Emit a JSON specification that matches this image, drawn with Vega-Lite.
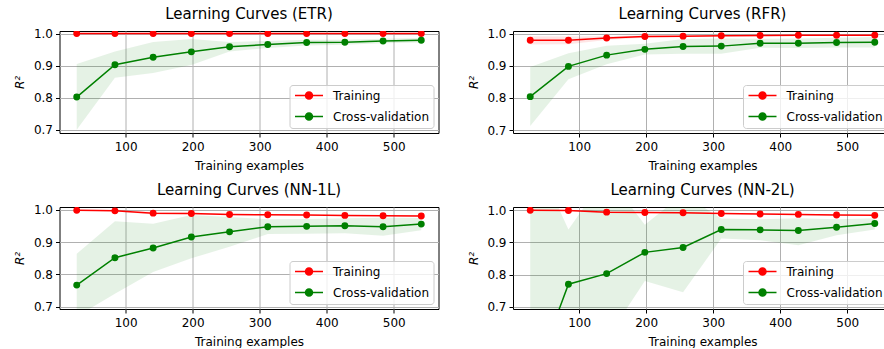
{
  "$schema": "https://vega.github.io/schema/vega-lite/v6.json",
  "padding": {"left": 12.5, "top": 6, "right": 0, "bottom": 0},
  "background": "white",
  "config": {
    "font": "DejaVu Sans",
    "view": {"stroke": "#000000", "strokeWidth": 1},
    "title": {"font": "DejaVu Sans", "fontSize": 15, "fontWeight": "normal", "color": "#000000", "offset": 6},
    "axis": {
      "labelFont": "DejaVu Sans", "labelFontSize": 12, "labelColor": "#000000",
      "titleFont": "DejaVu Sans", "titleFontSize": 12, "titleFontWeight": "normal", "titleColor": "#000000",
      "tickColor": "#000000", "tickSize": 4, "tickWidth": 1, "domain": false,
      "gridColor": "#b0b0b0", "gridWidth": 1, "gridOpacity": 1, "labelPadding": 3
    },
    "axisX": {"titlePadding": 8, "labelPadding": 4},
    "axisY": {"titlePadding": 6.5},
    "legend": {
      "orient": "bottom-right", "offset": 5, "padding": 4.5,
      "fillColor": "rgba(255,255,255,0.8)", "strokeColor": "#cccccc", "cornerRadius": 3,
      "labelFont": "DejaVu Sans", "labelFontSize": 12, "labelColor": "#000000",
      "symbolSize": 100, "symbolStrokeWidth": 1.5, "labelOffset": 27, "rowPadding": 7
    }
  },
  "datasets": {
    "lc": [
      {"model": "ETR", "series": "Training", "n": 27, "mean": 0.9999, "lo": 0.9995, "hi": 1.0003},
      {"model": "ETR", "series": "Training", "n": 84, "mean": 0.9999, "lo": 0.9995, "hi": 1.0003},
      {"model": "ETR", "series": "Training", "n": 141, "mean": 0.9999, "lo": 0.9995, "hi": 1.0003},
      {"model": "ETR", "series": "Training", "n": 198, "mean": 0.9999, "lo": 0.9995, "hi": 1.0003},
      {"model": "ETR", "series": "Training", "n": 255, "mean": 0.9999, "lo": 0.9995, "hi": 1.0003},
      {"model": "ETR", "series": "Training", "n": 312, "mean": 0.9999, "lo": 0.9995, "hi": 1.0003},
      {"model": "ETR", "series": "Training", "n": 370, "mean": 0.9999, "lo": 0.9995, "hi": 1.0003},
      {"model": "ETR", "series": "Training", "n": 427, "mean": 0.9999, "lo": 0.9995, "hi": 1.0003},
      {"model": "ETR", "series": "Training", "n": 484, "mean": 0.9999, "lo": 0.9995, "hi": 1.0003},
      {"model": "ETR", "series": "Training", "n": 541, "mean": 0.9999, "lo": 0.9995, "hi": 1.0003},
      {"model": "ETR", "series": "Cross-validation", "n": 27, "mean": 0.802, "lo": 0.700, "hi": 0.905},
      {"model": "ETR", "series": "Cross-validation", "n": 84, "mean": 0.903, "lo": 0.862, "hi": 0.944},
      {"model": "ETR", "series": "Cross-validation", "n": 141, "mean": 0.926, "lo": 0.877, "hi": 0.974},
      {"model": "ETR", "series": "Cross-validation", "n": 198, "mean": 0.943, "lo": 0.902, "hi": 0.983},
      {"model": "ETR", "series": "Cross-validation", "n": 255, "mean": 0.959, "lo": 0.944, "hi": 0.974},
      {"model": "ETR", "series": "Cross-validation", "n": 312, "mean": 0.966, "lo": 0.955, "hi": 0.977},
      {"model": "ETR", "series": "Cross-validation", "n": 370, "mean": 0.972, "lo": 0.963, "hi": 0.981},
      {"model": "ETR", "series": "Cross-validation", "n": 427, "mean": 0.973, "lo": 0.965, "hi": 0.981},
      {"model": "ETR", "series": "Cross-validation", "n": 484, "mean": 0.977, "lo": 0.970, "hi": 0.984},
      {"model": "ETR", "series": "Cross-validation", "n": 541, "mean": 0.979, "lo": 0.972, "hi": 0.986},

      {"model": "RFR", "series": "Training", "n": 27, "mean": 0.979, "lo": 0.966, "hi": 0.992},
      {"model": "RFR", "series": "Training", "n": 84, "mean": 0.979, "lo": 0.967, "hi": 0.991},
      {"model": "RFR", "series": "Training", "n": 141, "mean": 0.986, "lo": 0.980, "hi": 0.992},
      {"model": "RFR", "series": "Training", "n": 198, "mean": 0.991, "lo": 0.987, "hi": 0.995},
      {"model": "RFR", "series": "Training", "n": 255, "mean": 0.992, "lo": 0.989, "hi": 0.995},
      {"model": "RFR", "series": "Training", "n": 312, "mean": 0.993, "lo": 0.991, "hi": 0.995},
      {"model": "RFR", "series": "Training", "n": 370, "mean": 0.994, "lo": 0.992, "hi": 0.996},
      {"model": "RFR", "series": "Training", "n": 427, "mean": 0.995, "lo": 0.993, "hi": 0.997},
      {"model": "RFR", "series": "Training", "n": 484, "mean": 0.995, "lo": 0.993, "hi": 0.997},
      {"model": "RFR", "series": "Training", "n": 541, "mean": 0.995, "lo": 0.993, "hi": 0.997},
      {"model": "RFR", "series": "Cross-validation", "n": 27, "mean": 0.804, "lo": 0.713, "hi": 0.896},
      {"model": "RFR", "series": "Cross-validation", "n": 84, "mean": 0.898, "lo": 0.858, "hi": 0.939},
      {"model": "RFR", "series": "Cross-validation", "n": 141, "mean": 0.933, "lo": 0.905, "hi": 0.962},
      {"model": "RFR", "series": "Cross-validation", "n": 198, "mean": 0.951, "lo": 0.935, "hi": 0.968},
      {"model": "RFR", "series": "Cross-validation", "n": 255, "mean": 0.960, "lo": 0.937, "hi": 0.983},
      {"model": "RFR", "series": "Cross-validation", "n": 312, "mean": 0.961, "lo": 0.937, "hi": 0.985},
      {"model": "RFR", "series": "Cross-validation", "n": 370, "mean": 0.970, "lo": 0.956, "hi": 0.984},
      {"model": "RFR", "series": "Cross-validation", "n": 427, "mean": 0.970, "lo": 0.955, "hi": 0.985},
      {"model": "RFR", "series": "Cross-validation", "n": 484, "mean": 0.972, "lo": 0.957, "hi": 0.987},
      {"model": "RFR", "series": "Cross-validation", "n": 541, "mean": 0.973, "lo": 0.957, "hi": 0.989},

      {"model": "NN-1L", "series": "Training", "n": 27, "mean": 0.999, "lo": 0.998, "hi": 1.000},
      {"model": "NN-1L", "series": "Training", "n": 84, "mean": 0.997, "lo": 0.995, "hi": 0.999},
      {"model": "NN-1L", "series": "Training", "n": 141, "mean": 0.990, "lo": 0.986, "hi": 0.994},
      {"model": "NN-1L", "series": "Training", "n": 198, "mean": 0.989, "lo": 0.986, "hi": 0.992},
      {"model": "NN-1L", "series": "Training", "n": 255, "mean": 0.986, "lo": 0.984, "hi": 0.988},
      {"model": "NN-1L", "series": "Training", "n": 312, "mean": 0.985, "lo": 0.983, "hi": 0.987},
      {"model": "NN-1L", "series": "Training", "n": 370, "mean": 0.984, "lo": 0.982, "hi": 0.986},
      {"model": "NN-1L", "series": "Training", "n": 427, "mean": 0.983, "lo": 0.981, "hi": 0.985},
      {"model": "NN-1L", "series": "Training", "n": 484, "mean": 0.982, "lo": 0.980, "hi": 0.984},
      {"model": "NN-1L", "series": "Training", "n": 541, "mean": 0.981, "lo": 0.979, "hi": 0.983},
      {"model": "NN-1L", "series": "Cross-validation", "n": 27, "mean": 0.767, "lo": 0.670, "hi": 0.864},
      {"model": "NN-1L", "series": "Cross-validation", "n": 84, "mean": 0.852, "lo": 0.740, "hi": 0.965},
      {"model": "NN-1L", "series": "Cross-validation", "n": 141, "mean": 0.882, "lo": 0.808, "hi": 0.957},
      {"model": "NN-1L", "series": "Cross-validation", "n": 198, "mean": 0.916, "lo": 0.850, "hi": 0.984},
      {"model": "NN-1L", "series": "Cross-validation", "n": 255, "mean": 0.932, "lo": 0.886, "hi": 0.978},
      {"model": "NN-1L", "series": "Cross-validation", "n": 312, "mean": 0.948, "lo": 0.925, "hi": 0.971},
      {"model": "NN-1L", "series": "Cross-validation", "n": 370, "mean": 0.949, "lo": 0.926, "hi": 0.972},
      {"model": "NN-1L", "series": "Cross-validation", "n": 427, "mean": 0.951, "lo": 0.928, "hi": 0.974},
      {"model": "NN-1L", "series": "Cross-validation", "n": 484, "mean": 0.948, "lo": 0.920, "hi": 0.976},
      {"model": "NN-1L", "series": "Cross-validation", "n": 541, "mean": 0.956, "lo": 0.937, "hi": 0.975},

      {"model": "NN-2L", "series": "Training", "n": 27, "mean": 1.000, "lo": 0.999, "hi": 1.001},
      {"model": "NN-2L", "series": "Training", "n": 84, "mean": 0.999, "lo": 0.997, "hi": 1.001},
      {"model": "NN-2L", "series": "Training", "n": 141, "mean": 0.994, "lo": 0.991, "hi": 0.997},
      {"model": "NN-2L", "series": "Training", "n": 198, "mean": 0.993, "lo": 0.991, "hi": 0.995},
      {"model": "NN-2L", "series": "Training", "n": 255, "mean": 0.992, "lo": 0.990, "hi": 0.994},
      {"model": "NN-2L", "series": "Training", "n": 312, "mean": 0.990, "lo": 0.988, "hi": 0.992},
      {"model": "NN-2L", "series": "Training", "n": 370, "mean": 0.988, "lo": 0.986, "hi": 0.990},
      {"model": "NN-2L", "series": "Training", "n": 427, "mean": 0.987, "lo": 0.985, "hi": 0.989},
      {"model": "NN-2L", "series": "Training", "n": 484, "mean": 0.985, "lo": 0.983, "hi": 0.987},
      {"model": "NN-2L", "series": "Training", "n": 541, "mean": 0.984, "lo": 0.982, "hi": 0.986},
      {"model": "NN-2L", "series": "Cross-validation", "n": 27, "mean": 0.450, "lo": -0.300, "hi": 1.200},
      {"model": "NN-2L", "series": "Cross-validation", "n": 84, "mean": 0.770, "lo": 0.550, "hi": 0.940},
      {"model": "NN-2L", "series": "Cross-validation", "n": 141, "mean": 0.803, "lo": 0.600, "hi": 1.110},
      {"model": "NN-2L", "series": "Cross-validation", "n": 198, "mean": 0.869, "lo": 0.780, "hi": 0.955},
      {"model": "NN-2L", "series": "Cross-validation", "n": 255, "mean": 0.884, "lo": 0.745, "hi": 1.050},
      {"model": "NN-2L", "series": "Cross-validation", "n": 312, "mean": 0.940, "lo": 0.912, "hi": 0.974},
      {"model": "NN-2L", "series": "Cross-validation", "n": 370, "mean": 0.939, "lo": 0.907, "hi": 0.972},
      {"model": "NN-2L", "series": "Cross-validation", "n": 427, "mean": 0.937, "lo": 0.891, "hi": 0.975},
      {"model": "NN-2L", "series": "Cross-validation", "n": 484, "mean": 0.947, "lo": 0.922, "hi": 0.972},
      {"model": "NN-2L", "series": "Cross-validation", "n": 541, "mean": 0.959, "lo": 0.940, "hi": 0.975}
    ]
  },
  "columns": 2,
  "spacing": {"row": 10, "column": 26.5},
  "resolve": {"scale": {"color": "independent", "x": "independent", "y": "independent"}},
  "concat": [
    {
      "title": "Learning Curves (ETR)",
      "width": 379, "height": 102,
      "data": {"name": "lc"},
      "transform": [{"filter": "datum.model === 'ETR'"}],
      "encoding": {
        "x": {"field": "n", "type": "quantitative", "scale": {"domain": [1.3, 566.7], "nice": false, "zero": false}, "axis": {"values": [100, 200, 300, 400, 500], "title": "Training examples"}},
        "color": {"field": "series", "type": "nominal", "scale": {"domain": ["Training", "Cross-validation"], "range": ["#ff0000", "#008000"]},
          "legend": {"title": null, "symbolType": "M-1,0L4.6,0M2.5,0A0.7,0.7,0,1,1,1.1,0A0.7,0.7,0,1,1,2.5,0Z",
            "encode": {"symbols": {"update": {"fill": {"signal": "datum.value === 'Training' ? '#ff0000' : '#008000'"}, "stroke": {"signal": "datum.value === 'Training' ? '#ff0000' : '#008000'"}, "fillOpacity": {"value": 1}, "strokeOpacity": {"value": 1}, "opacity": {"value": 1}}}}}}
      },
      "layer": [
        {"mark": {"type": "area", "opacity": 0.1, "clip": true},
         "encoding": {"y": {"field": "lo", "type": "quantitative", "scale": {"domain": [0.69, 1.008], "nice": false, "zero": false}, "axis": {"values": [0.7, 0.8, 0.9, 1.0], "format": ".1f", "title": "R²", "titleFontStyle": "italic"}}, "y2": {"field": "hi"}}},
        {"mark": {"type": "line", "strokeWidth": 1.5, "clip": true},
         "encoding": {"y": {"field": "mean", "type": "quantitative", "axis": {"values": [0.7, 0.8, 0.9, 1.0], "format": ".1f", "title": "R²", "titleFontStyle": "italic"}}}},
        {"mark": {"type": "point", "filled": true, "size": 48, "opacity": 1, "clip": true},
         "encoding": {"y": {"field": "mean", "type": "quantitative", "axis": {"values": [0.7, 0.8, 0.9, 1.0], "format": ".1f", "title": "R²", "titleFontStyle": "italic"}}}}
      ]
    },
    {
      "title": "Learning Curves (RFR)",
      "width": 379, "height": 102,
      "data": {"name": "lc"},
      "transform": [{"filter": "datum.model === 'RFR'"}],
      "encoding": {
        "x": {"field": "n", "type": "quantitative", "scale": {"domain": [1.3, 566.7], "nice": false, "zero": false}, "axis": {"values": [100, 200, 300, 400, 500], "title": "Training examples"}},
        "color": {"field": "series", "type": "nominal", "scale": {"domain": ["Training", "Cross-validation"], "range": ["#ff0000", "#008000"]},
          "legend": {"title": null, "symbolType": "M-1,0L4.6,0M2.5,0A0.7,0.7,0,1,1,1.1,0A0.7,0.7,0,1,1,2.5,0Z",
            "encode": {"symbols": {"update": {"fill": {"signal": "datum.value === 'Training' ? '#ff0000' : '#008000'"}, "stroke": {"signal": "datum.value === 'Training' ? '#ff0000' : '#008000'"}, "fillOpacity": {"value": 1}, "strokeOpacity": {"value": 1}, "opacity": {"value": 1}}}}}}
      },
      "layer": [
        {"mark": {"type": "area", "opacity": 0.1, "clip": true},
         "encoding": {"y": {"field": "lo", "type": "quantitative", "scale": {"domain": [0.691, 1.008], "nice": false, "zero": false}, "axis": {"values": [0.7, 0.8, 0.9, 1.0], "format": ".1f", "title": "R²", "titleFontStyle": "italic"}}, "y2": {"field": "hi"}}},
        {"mark": {"type": "line", "strokeWidth": 1.5, "clip": true},
         "encoding": {"y": {"field": "mean", "type": "quantitative", "axis": {"values": [0.7, 0.8, 0.9, 1.0], "format": ".1f", "title": "R²", "titleFontStyle": "italic"}}}},
        {"mark": {"type": "point", "filled": true, "size": 48, "opacity": 1, "clip": true},
         "encoding": {"y": {"field": "mean", "type": "quantitative", "axis": {"values": [0.7, 0.8, 0.9, 1.0], "format": ".1f", "title": "R²", "titleFontStyle": "italic"}}}}
      ]
    },
    {
      "title": "Learning Curves (NN-1L)",
      "width": 379, "height": 102,
      "data": {"name": "lc"},
      "transform": [{"filter": "datum.model === 'NN-1L'"}],
      "encoding": {
        "x": {"field": "n", "type": "quantitative", "scale": {"domain": [1.3, 566.7], "nice": false, "zero": false}, "axis": {"values": [100, 200, 300, 400, 500], "title": "Training examples"}},
        "color": {"field": "series", "type": "nominal", "scale": {"domain": ["Training", "Cross-validation"], "range": ["#ff0000", "#008000"]},
          "legend": {"title": null, "symbolType": "M-1,0L4.6,0M2.5,0A0.7,0.7,0,1,1,1.1,0A0.7,0.7,0,1,1,2.5,0Z",
            "encode": {"symbols": {"update": {"fill": {"signal": "datum.value === 'Training' ? '#ff0000' : '#008000'"}, "stroke": {"signal": "datum.value === 'Training' ? '#ff0000' : '#008000'"}, "fillOpacity": {"value": 1}, "strokeOpacity": {"value": 1}, "opacity": {"value": 1}}}}}}
      },
      "layer": [
        {"mark": {"type": "area", "opacity": 0.1, "clip": true},
         "encoding": {"y": {"field": "lo", "type": "quantitative", "scale": {"domain": [0.693, 1.009], "nice": false, "zero": false}, "axis": {"values": [0.7, 0.8, 0.9, 1.0], "format": ".1f", "title": "R²", "titleFontStyle": "italic"}}, "y2": {"field": "hi"}}},
        {"mark": {"type": "line", "strokeWidth": 1.5, "clip": true},
         "encoding": {"y": {"field": "mean", "type": "quantitative", "axis": {"values": [0.7, 0.8, 0.9, 1.0], "format": ".1f", "title": "R²", "titleFontStyle": "italic"}}}},
        {"mark": {"type": "point", "filled": true, "size": 48, "opacity": 1, "clip": true},
         "encoding": {"y": {"field": "mean", "type": "quantitative", "axis": {"values": [0.7, 0.8, 0.9, 1.0], "format": ".1f", "title": "R²", "titleFontStyle": "italic"}}}}
      ]
    },
    {
      "title": "Learning Curves (NN-2L)",
      "width": 379, "height": 102,
      "data": {"name": "lc"},
      "transform": [{"filter": "datum.model === 'NN-2L'"}],
      "encoding": {
        "x": {"field": "n", "type": "quantitative", "scale": {"domain": [1.3, 566.7], "nice": false, "zero": false}, "axis": {"values": [100, 200, 300, 400, 500], "title": "Training examples"}},
        "color": {"field": "series", "type": "nominal", "scale": {"domain": ["Training", "Cross-validation"], "range": ["#ff0000", "#008000"]},
          "legend": {"title": null, "symbolType": "M-1,0L4.6,0M2.5,0A0.7,0.7,0,1,1,1.1,0A0.7,0.7,0,1,1,2.5,0Z",
            "encode": {"symbols": {"update": {"fill": {"signal": "datum.value === 'Training' ? '#ff0000' : '#008000'"}, "stroke": {"signal": "datum.value === 'Training' ? '#ff0000' : '#008000'"}, "fillOpacity": {"value": 1}, "strokeOpacity": {"value": 1}, "opacity": {"value": 1}}}}}}
      },
      "layer": [
        {"mark": {"type": "area", "opacity": 0.1, "clip": true},
         "encoding": {"y": {"field": "lo", "type": "quantitative", "scale": {"domain": [0.693, 1.01], "nice": false, "zero": false}, "axis": {"values": [0.7, 0.8, 0.9, 1.0], "format": ".1f", "title": "R²", "titleFontStyle": "italic"}}, "y2": {"field": "hi"}}},
        {"mark": {"type": "line", "strokeWidth": 1.5, "clip": true},
         "encoding": {"y": {"field": "mean", "type": "quantitative", "axis": {"values": [0.7, 0.8, 0.9, 1.0], "format": ".1f", "title": "R²", "titleFontStyle": "italic"}}}},
        {"mark": {"type": "point", "filled": true, "size": 48, "opacity": 1, "clip": true},
         "encoding": {"y": {"field": "mean", "type": "quantitative", "axis": {"values": [0.7, 0.8, 0.9, 1.0], "format": ".1f", "title": "R²", "titleFontStyle": "italic"}}}}
      ]
    }
  ]
}
